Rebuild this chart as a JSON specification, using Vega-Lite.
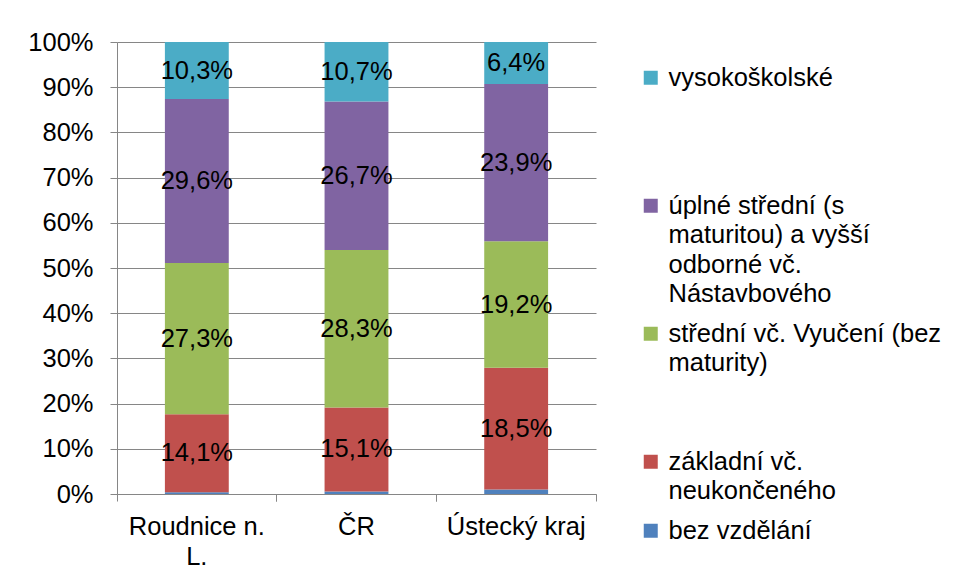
{
  "$schema": "https://vega.github.io/schema/vega-lite/v6.json",
  "autosize": {"type": "none"},
  "width": 479,
  "height": 452,
  "padding": {"left": 117, "top": 42, "right": 364, "bottom": 87},
  "background": "white",
  "config": {
    "font": "Liberation Sans",
    "view": {"stroke": null},
    "axis": {"labelFont": "Liberation Sans", "labelFontSize": 25.5, "labelColor": "black", "domainColor": "#868686", "tickColor": "#868686", "gridColor": "#868686", "tickSize": 7, "title": null}
  },
  "data": {
    "values": [
      {"region": "Roudnice n. L.", "level": "bez vzdělání", "pct": 0.3},
      {"region": "Roudnice n. L.", "level": "základní vč. neukončeného", "pct": 14.1},
      {"region": "Roudnice n. L.", "level": "střední vč. Vyučení (bez maturity)", "pct": 27.3},
      {"region": "Roudnice n. L.", "level": "úplné střední (s maturitou) a vyšší odborné vč. Nástavbového", "pct": 29.6},
      {"region": "Roudnice n. L.", "level": "vysokoškolské", "pct": 10.3},
      {"region": "ČR", "level": "bez vzdělání", "pct": 0.45},
      {"region": "ČR", "level": "základní vč. neukončeného", "pct": 15.1},
      {"region": "ČR", "level": "střední vč. Vyučení (bez maturity)", "pct": 28.3},
      {"region": "ČR", "level": "úplné střední (s maturitou) a vyšší odborné vč. Nástavbového", "pct": 26.7},
      {"region": "ČR", "level": "vysokoškolské", "pct": 10.7},
      {"region": "Ústecký kraj", "level": "bez vzdělání", "pct": 0.7},
      {"region": "Ústecký kraj", "level": "základní vč. neukončeného", "pct": 18.5},
      {"region": "Ústecký kraj", "level": "střední vč. Vyučení (bez maturity)", "pct": 19.2},
      {"region": "Ústecký kraj", "level": "úplné střední (s maturitou) a vyšší odborné vč. Nástavbového", "pct": 23.9},
      {"region": "Ústecký kraj", "level": "vysokoškolské", "pct": 6.4}
    ]
  },
  "transform": [
    {"calculate": "indexof(['bez vzdělání','základní vč. neukončeného','střední vč. Vyučení (bez maturity)','úplné střední (s maturitou) a vyšší odborné vč. Nástavbového','vysokoškolské'], datum.level)", "as": "ord"},
    {"stack": "pct", "groupby": ["region"], "sort": [{"field": "ord", "order": "ascending"}], "offset": "normalize", "as": ["y0", "y1"]},
    {"calculate": "(datum.y0 + datum.y1) / 2", "as": "ymid"},
    {"calculate": "replace(format(datum.pct, '.1f'), '.', ',') + '%'", "as": "lab"}
  ],
  "layer": [
    {
      "mark": {"type": "bar"},
      "encoding": {
        "x": {
          "field": "region", "type": "nominal", "sort": ["Roudnice n. L.", "ČR", "Ústecký kraj"],
          "scale": {"paddingInner": 0.6, "paddingOuter": 0.3},
          "axis": {"labelAngle": 0, "bandPosition": -0.75, "labelPadding": 13, "labelLineHeight": 30,
                   "labelExpr": "datum.label == 'Roudnice n. L.' ? ['Roudnice n.', 'L.'] : datum.label"}
        },
        "y": {"field": "y0", "type": "quantitative", "scale": {"domain": [0, 1]},
              "axis": {"format": ".0%", "values": [0, 0.1, 0.2, 0.3, 0.4, 0.5, 0.6, 0.7, 0.8, 0.9, 1], "grid": true, "labelPadding": 17}},
        "y2": {"field": "y1"},
        "color": {
          "field": "level", "type": "nominal",
          "scale": {
            "domain": ["vysokoškolské", "úplné střední (s maturitou) a vyšší odborné vč. Nástavbového", "střední vč. Vyučení (bez maturity)", "základní vč. neukončeného", "bez vzdělání"],
            "range": ["#4BACC6", "#8064A2", "#9BBB59", "#C0504D", "#4F81BD"]
          },
          "legend": {
            "title": null, "orient": "none", "legendX": 521, "legendY": 23,
            "symbolType": "square", "symbolSize": 196, "symbolStrokeWidth": 0, "symbolOpacity": 1,
            "labelFont": "Liberation Sans", "labelFontSize": 25.5, "labelColor": "black", "labelLimit": 400,
            "labelOffset": 5, "labelBaseline": "top", "rowPadding": 13,
            "labelExpr": "datum.label == 'vysokoškolské' ? ['vysokoškolské', '', '', ''] : datum.label == 'úplné střední (s maturitou) a vyšší odborné vč. Nástavbového' ? ['úplné střední (s', 'maturitou) a vyšší', 'odborné vč.', 'Nástavbového'] : datum.label == 'střední vč. Vyučení (bez maturity)' ? ['střední vč. Vyučení (bez', 'maturity)', '', ''] : datum.label == 'základní vč. neukončeného' ? ['základní vč.', 'neukončeného'] : datum.label",
            "encode": {"labels": {"update": {"dy": {"value": -12}, "lineHeight": {"value": 29.5}}}}
          }
        }
      }
    },
    {
      "transform": [{"filter": "datum.level != 'bez vzdělání'"}],
      "mark": {"type": "text", "font": "Liberation Sans", "fontSize": 25.5, "color": "black", "baseline": "middle", "align": "center"},
      "encoding": {
        "x": {
          "field": "region", "type": "nominal", "sort": ["Roudnice n. L.", "ČR", "Ústecký kraj"],
          "axis": {"orient": "bottom", "bandPosition": 1.75, "labels": false, "domain": false, "grid": false}
        },
        "y": {"field": "ymid", "type": "quantitative"},
        "text": {"field": "lab", "type": "nominal"}
      }
    }
  ],
  "resolve": {"axis": {"x": "independent"}}
}
